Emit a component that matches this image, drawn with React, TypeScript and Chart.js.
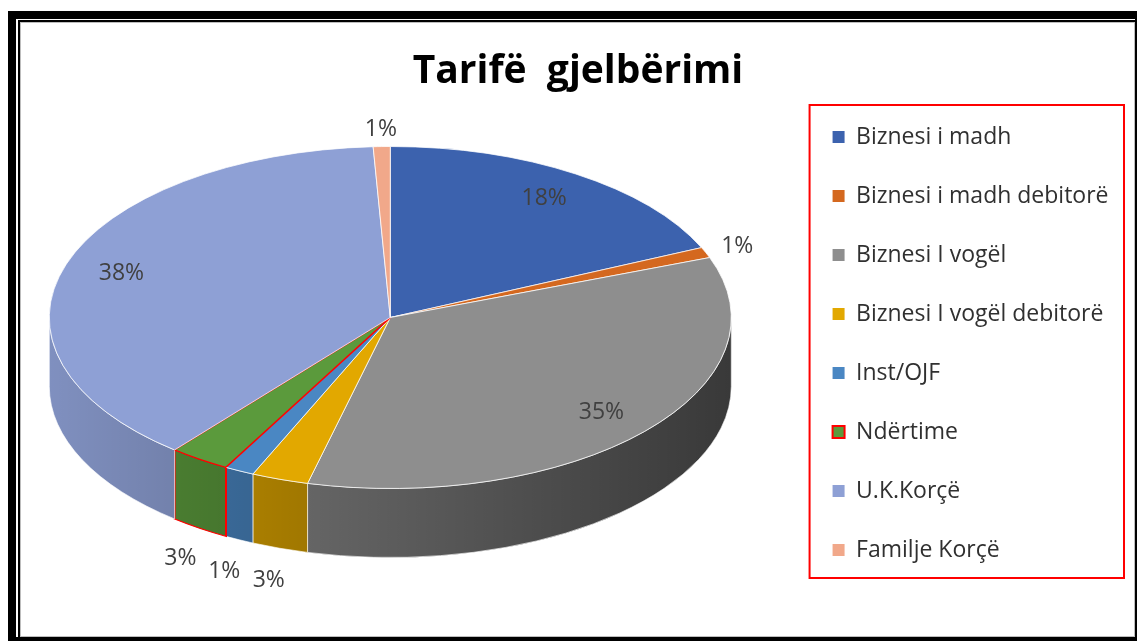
import React, { useEffect, useRef } from 'react';
import { Chart, registerables } from 'chart.js';

Chart.register(...registerables);

// ---- data ----
const titleText = 'Tarifë  gjelbërimi';
const categories = [
  'Biznesi i madh',
  'Biznesi i madh debitorë',
  'Biznesi I vogël',
  'Biznesi I vogël debitorë',
  'Inst/OJF',
  'Ndërtime',
  'U.K.Korçë',
  'Familje Korçë',
];
const shares = [18.3, 1.0, 34.6, 2.7, 1.4, 2.9, 38.3, 0.8];

// ---- styles ----
const sliceColors = ['#3C62AE', '#D4681F', '#8E8E8E', '#E2A800', '#4A87C3', '#5B9A3C', '#8EA0D5', '#F1A88A'];
const sliceBorders = ['#ffffff', '#ffffff', '#ffffff', '#ffffff', '#ffffff', '#FF0000', '#ffffff', '#ffffff'];
const sliceBorderWidths = [1, 1, 1, 1, 1, 2, 1, 1];
const PIE_RADIUS = 341;
const TILT = 171 / 341;
const DEPTH = 69;
const FONT = "'Open Sans', sans-serif";
const CANVAS_SHIFT = 16;

const pie3d = {
  id: 'pie3d',
  beforeDatasetsDraw(chart: any) {
    const arcs = chart.getDatasetMeta(0).data;
    if (!arcs.length) return;
    const { x, y, outerRadius: r } = arcs[0];
    const ctx = chart.ctx;
    ctx.save();
    chart.$pie3dSaved = true;
    ctx.translate(x, y - DEPTH / 2);
    ctx.scale(1, TILT);
    ctx.translate(-x, -y);
    const d = DEPTH / TILT;
    const shade = ctx.createLinearGradient(x - r, 0, x + r, 0);
    shade.addColorStop(0, 'rgba(0,0,0,0.10)');
    shade.addColorStop(1, 'rgba(0,0,0,0.60)');
    arcs.forEach((arc: any, i: number) => {
      const s = arc.startAngle;
      const e = arc.endAngle;
      for (const n of [-1, 0, 1]) {
        const lo = Math.max(s, n * 2 * Math.PI);
        const hi = Math.min(e, n * 2 * Math.PI + Math.PI);
        if (hi <= lo) continue;
        ctx.beginPath();
        ctx.arc(x, y, r, lo, hi);
        ctx.lineTo(x + r * Math.cos(hi), y + r * Math.sin(hi) + d);
        ctx.arc(x, y + d, r, hi, lo, true);
        ctx.closePath();
        ctx.fillStyle = sliceColors[i];
        ctx.fill();
        ctx.fillStyle = shade;
        ctx.fill();
        ctx.lineWidth = sliceBorderWidths[i];
        ctx.strokeStyle = i === 5 ? sliceBorders[i] : 'rgba(255,255,255,0.85)';
        ctx.stroke();
      }
    });
  },
  afterDatasetsDraw(chart: any) {
    if (chart.$pie3dSaved) {
      chart.ctx.restore();
      chart.$pie3dSaved = false;
    }
  },
};

const pieLabels = {
  id: 'pieLabels',
  afterDraw(chart: any) {
    const arcs = chart.getDatasetMeta(0).data;
    const total = shares.reduce((a, b) => a + b, 0);
    const ctx = chart.ctx;
    ctx.save();
    ctx.font = `23px ${FONT}`;
    ctx.fillStyle = '#404040';
    ctx.textAlign = 'center';
    ctx.textBaseline = 'middle';
    arcs.forEach((arc: any, i: number) => {
      const pct = (shares[i] / total) * 100;
      const mid = (arc.startAngle + arc.endAngle) / 2;
      const inside = pct >= 5;
      const f = inside ? 0.83 : 1.1;
      const cy = arc.y - DEPTH / 2;
      const lx = arc.x + arc.outerRadius * f * Math.cos(mid);
      let ly = cy + arc.outerRadius * TILT * f * Math.sin(mid);
      if (!inside && Math.sin(mid) > 0) ly += DEPTH + 16;
      ctx.fillText(Math.round(pct) + '%', lx, ly);
    });
    ctx.restore();
  },
};

const legendFrame = {
  id: 'legendFrame',
  afterDraw(chart: any) {
    const lg = chart.legend;
    if (!lg) return;
    const ctx = chart.ctx;
    ctx.save();
    ctx.strokeStyle = '#FF0000';
    ctx.lineWidth = 2;
    const left = lg.left + 13;
    const top = lg.top + 15.5;
    ctx.strokeRect(left, top, lg.right + 5.5 - left, lg.bottom - 36.5 - top);
    ctx.restore();
  },
};

export default function App() {
  const ref = useRef<HTMLCanvasElement | null>(null);

  useEffect(() => {
    if (!ref.current) return;
    const chart = new Chart(ref.current, {
      type: 'pie',
      data: {
        labels: categories,
        datasets: [
          {
            data: shares,
            backgroundColor: sliceColors,
            borderColor: sliceBorders,
            borderWidth: sliceBorderWidths,
            radius: PIE_RADIUS,
            clip: false,
          } as any,
        ],
      },
      options: {
        responsive: false,
        animation: false,
        devicePixelRatio: 1,
        events: [],
        layout: { padding: { top: 89.5, bottom: 26.5, left: 0, right: 18.5 } },
        plugins: {
          title: { display: false },
          tooltip: { enabled: false },
          legend: {
            position: 'right',
            align: 'start',
            fullSize: false,
            labels: {
              boxWidth: 12,
              boxHeight: 12,
              padding: 36,
              color: '#303030',
              font: { family: FONT, size: 23 },
              generateLabels: (c: any) => {
                const base = (Chart as any).overrides.doughnut.plugins.legend.labels.generateLabels(c);
                return base.map((it: any, i: number) => ({
                  ...it,
                  strokeStyle: sliceBorders[i],
                  lineWidth: i === 5 ? 2 : 0,
                }));
              },
            },
          },
        },
      } as any,
      plugins: [pie3d, pieLabels, legendFrame],
    });
    return () => chart.destroy();
  }, []);

  return (
    <div>
      <div style={{ position: 'fixed', left: 8, top: 11, width: 1200, height: 700, background: '#000', zIndex: 0 }} />
      <div style={{ position: 'fixed', left: 16, top: 19, width: 1119, height: 618, background: '#fff', zIndex: 0 }} />
      <div
        style={{
          position: 'fixed',
          left: 18,
          top: 20,
          width: 1117,
          height: 617,
          boxSizing: 'border-box',
          borderLeft: '2px solid #000',
          borderTop: '2px solid #000',
          zIndex: 0,
        }}
      >
        <div style={{ width: '100%', height: '100%', boxSizing: 'border-box', border: '1px solid #bdbdbd', background: '#fff' }} />
      </div>
      <canvas
        ref={ref}
        width={1137 + CANVAS_SHIFT}
        height={641}
        style={{ position: 'fixed', left: -CANVAS_SHIFT, top: 0, width: 1137 + CANVAS_SHIFT, height: 641, zIndex: 1 }}
      />
      <div
        style={{
          position: 'fixed',
          left: 0,
          top: 48,
          width: 1156,
          textAlign: 'center',
          font: `bold 39px ${FONT}`,
          lineHeight: '39px',
          whiteSpace: 'pre',
          color: '#000',
          zIndex: 2,
        }}
      >
        {titleText}
      </div>
    </div>
  );
}
